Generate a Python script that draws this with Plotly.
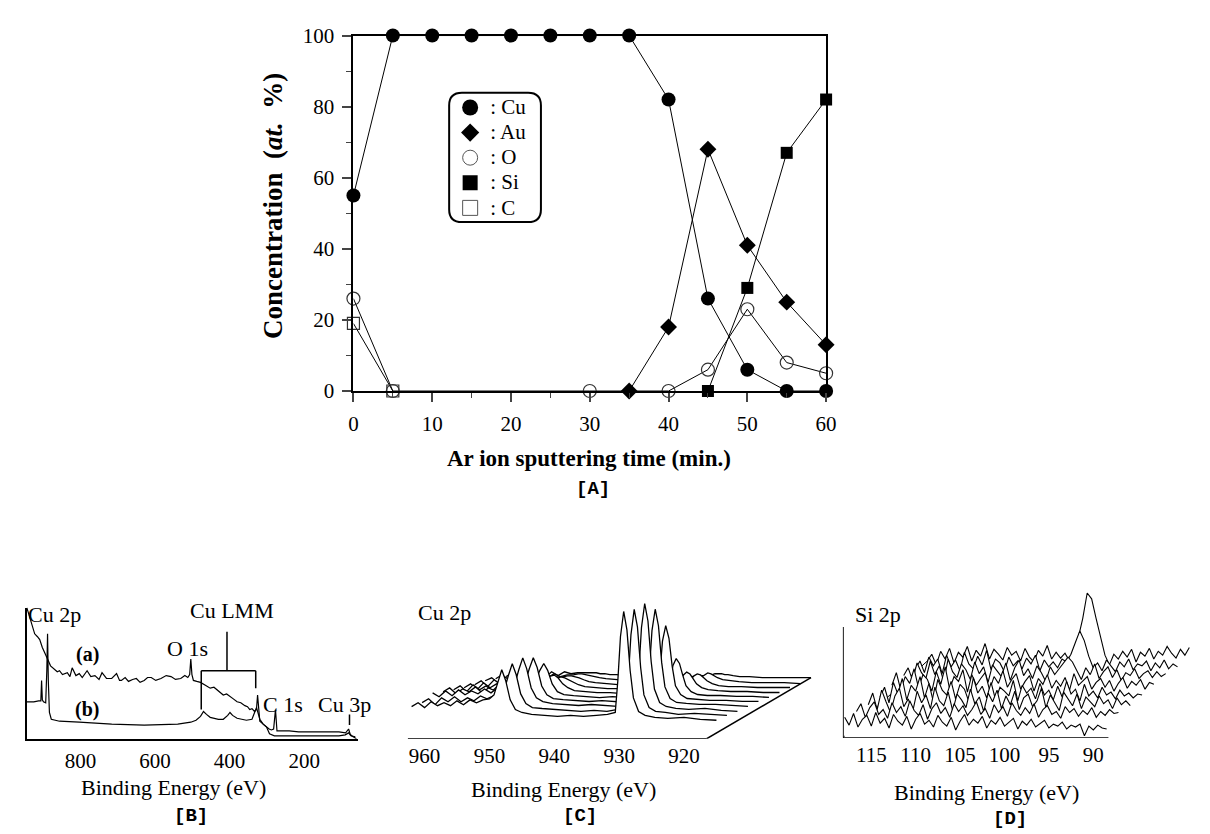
import plotly.graph_objects as go

W, H = 1210, 834
SERIF = "Liberation Serif"
MONO = "Liberation Mono"


def fx(p):
    return p / W


def fy(p):
    return 1 - p / H


# ---------------- Panel A : depth profile ----------------
TIME_CU = [0, 5, 10, 15, 20, 25, 30, 35, 40, 45, 50, 55, 60]
CU = [55, 100, 100, 100, 100, 100, 100, 100, 82, 26, 6, 0, 0]
TIME_AU = [35, 40, 45, 50, 55, 60]
AU = [0, 18, 68, 41, 25, 13]
TIME_O = [0, 5, 30, 40, 45, 50, 55, 60]
O = [26, 0, 0, 0, 6, 23, 8, 5]
TIME_SI = [45, 50, 55, 60]
SI = [0, 29, 67, 82]
TIME_C = [0, 5]
C = [19, 0]
X_TICKS_A = [0, 10, 20, 30, 40, 50, 60]
Y_TICKS_A = [0, 20, 40, 60, 80, 100]

# ---------------- Panel B : survey spectra ----------------
SPEC_A = [(943.6, 135), (933, 120), (922.5, 108), (915, 105), (909, 102), (902, 94), (896, 88), (888, 82),
          (880, 75), (870, 72), (862, 69), (856, 70), (848, 66), (835, 68), (828, 64), (822, 73),
          (812, 65), (803, 67), (795, 63), (782, 70), (772, 64), (761, 65), (750, 61), (742, 68),
          (730, 62), (716, 62), (708, 65), (703, 67), (695, 60), (690, 60), (680, 63), (671, 59),
          (660, 61), (650, 62), (640, 58), (629, 60), (620, 63), (610, 63), (598, 60), (584, 62),
          (570, 65), (557, 64), (545, 61), (531, 62), (520, 65), (512, 63), (507, 66), (504, 82),
          (501, 66), (497, 60), (488, 59), (478, 58), (465, 55), (452, 52), (442, 53), (433, 50),
          (425, 48), (417, 45), (408, 46), (399, 43), (390, 41), (380, 38), (370, 37), (359, 34),
          (352, 33), (346, 30), (340, 31), (333, 28), (328, 30), (325, 45), (322, 25), (319, 18),
          (310, 15), (301, 12), (294, 10), (288, 9), (282, 10), (277, 30), (273, 8), (265, 8),
          (240, 8), (215, 7), (187, 7), (160, 7), (134, 7), (107, 7), (89, 6), (81, 10), (77, 5),
          (73, 3), (60, 0)]
SPEC_B = [(943.6, 38), (925, 38), (912, 39), (906, 39), (904, 60), (902, 40), (899, 38), (893, 37),
          (890, 70), (888, 108), (886, 60), (883, 27), (878, 20), (866, 19), (856, 18), (803, 17),
          (716, 15), (629, 14), (539, 15), (504, 17), (490, 19), (478, 23), (470, 28), (462, 25),
          (452, 22), (430, 20), (417, 20), (405, 24), (399, 27), (392, 24), (380, 21), (355, 19),
          (340, 20), (332, 28), (328, 32), (324, 27), (319, 20), (310, 15), (301, 12), (293, 5),
          (280, 3), (240, 3), (107, 3), (90, 4), (81, 6), (75, 3), (63, 2)]
B_TICKS = [800, 600, 400, 200]
CU_LMM_RANGE = (476, 330)   # eV span of the bracket
CU_LMM_CENTER = 407
CU_3P = 78.6

# ---------------- Panel C : Cu 2p waterfall ----------------
E_C = [962.0, 961.0, 960.0, 959.0, 958.0, 957.0, 956.0, 955.0, 954.0, 953.0, 952.0, 951.0, 950.0,
       949.3, 948.7, 948.1, 947.5, 946.8, 946.0, 945.0, 943.5, 941.5, 939.5, 937.5, 935.5, 933.5,
       931.8, 930.6, 930.2, 929.8, 929.3, 928.8, 928.3, 927.8, 927.0, 926.0, 924.5, 922.5, 920.0,
       917.5, 915.0]
CU2P = [
    [33, 37, 32, 38, 34, 37, 34, 39, 35, 40, 37, 40, 41, 45, 58, 71, 60, 40, 30, 27, 25, 24, 23, 24, 23, 24, 25, 27, 60, 105, 131, 112, 70, 42, 28, 24, 22, 21, 22, 20, 19],
    [32, 36, 30, 37, 33, 38, 33, 37, 34, 39, 36, 39, 40, 46, 60, 72, 61, 41, 31, 27, 26, 25, 24, 23, 24, 23, 25, 28, 58, 102, 128, 110, 68, 40, 27, 23, 22, 20, 21, 20, 19],
    [37, 33, 39, 34, 40, 35, 39, 36, 41, 37, 42, 39, 42, 47, 61, 73, 62, 42, 32, 28, 26, 25, 24, 25, 24, 23, 25, 28, 60, 104, 129, 111, 69, 41, 27, 23, 21, 20, 21, 19, 18],
    [33, 37, 31, 36, 33, 38, 32, 37, 34, 39, 35, 38, 39, 44, 57, 68, 58, 39, 30, 26, 25, 24, 23, 24, 23, 22, 24, 27, 55, 96, 118, 101, 63, 38, 26, 22, 21, 20, 20, 19, 18],
    [30, 34, 28, 35, 30, 34, 29, 35, 31, 36, 32, 35, 36, 41, 50, 57, 50, 36, 28, 25, 24, 23, 22, 23, 22, 22, 23, 26, 47, 80, 96, 83, 54, 34, 25, 21, 20, 19, 19, 18, 18],
    [27, 31, 25, 32, 27, 31, 26, 32, 28, 33, 29, 32, 33, 36, 39, 40, 37, 31, 27, 24, 23, 22, 22, 21, 22, 21, 22, 25, 36, 50, 57, 52, 40, 29, 23, 20, 19, 19, 18, 18, 17],
    [25, 29, 23, 30, 25, 29, 24, 30, 26, 31, 27, 30, 30, 32, 33, 32, 30, 27, 25, 23, 22, 21, 21, 20, 21, 20, 21, 23, 30, 35, 38, 36, 31, 26, 22, 20, 19, 18, 18, 17, 17],
    [24, 27, 22, 28, 24, 28, 23, 28, 25, 29, 25, 28, 28, 29, 29, 28, 27, 25, 23, 22, 21, 20, 20, 20, 19, 20, 20, 22, 26, 29, 31, 30, 27, 24, 21, 19, 18, 18, 17, 17, 17],
    [21, 25, 19, 26, 21, 25, 20, 26, 22, 26, 23, 25, 25, 26, 26, 25, 24, 23, 22, 21, 20, 19, 19, 19, 18, 19, 19, 20, 23, 25, 27, 26, 24, 22, 20, 19, 18, 17, 17, 17, 16],
    [18, 22, 16, 23, 18, 22, 17, 23, 19, 23, 21, 22, 22, 22, 22, 22, 21, 21, 20, 20, 19, 19, 19, 18, 18, 18, 19, 19, 20, 21, 21, 21, 20, 20, 19, 18, 18, 17, 17, 17, 17],
]
C_TICKS = [960, 950, 940, 930, 920]

# ---------------- Panel D : Si 2p waterfall ----------------
E_D = [118.0, 117.5, 117.0, 116.5, 116.0, 115.5, 115.0, 114.5, 114.0, 113.5,
       113.0, 112.5, 112.0, 111.5, 111.0, 110.5, 110.0, 109.5, 109.0, 108.5,
       108.0, 107.5, 107.0, 106.5, 106.0, 105.5, 105.0, 104.5, 104.0, 103.5,
       103.0, 102.5, 102.0, 101.5, 101.0, 100.5, 100.0, 99.5, 99.0, 98.5,
       98.0, 97.5, 97.0, 96.5, 96.0, 95.5, 95.0, 94.5, 94.0, 93.5,
       93.0, 92.5, 92.0, 91.5, 91.0, 90.5, 90.0, 89.5, 89.0, 88.5]
SI2P = [
    [21, 13, 25, 11, 19, 23, 12, 26, 15, 20, 10, 24, 17, 13, 22, 9, 19, 25, 14, 18, 11, 23, 16, 12, 21, 8, 17, 24, 13, 19,
     15, 22, 10, 18, 14, 21, 12, 16, 20, 9, 17, 13, 19, 11, 15, 18, 10, 14, 12, 16, 9, 13, 11, 14, 2, 12, 8, 13, 10, 9],
    [18, 26, 12, 22, 28, 15, 20, 11, 27, 17, 23, 13, 29, 19, 14, 25, 10, 21, 27, 16, 22, 12, 26, 18, 24, 14, 20, 28, 15, 21,
     11, 25, 17, 23, 13, 27, 19, 14, 22, 16, 26, 12, 20, 24, 15, 18, 11, 23, 17, 21, 13, 19, 15, 22, 12, 18, 14, 20, 16, 17],
    [16, 28, 11, 31, 19, 8, 25, 33, 14, 22, 9, 30, 18, 26, 12, 34, 20, 15, 29, 10, 27, 21, 13, 32, 17, 24, 9, 28, 19, 31,
     12, 25, 16, 30, 11, 23, 27, 14, 20, 33, 13, 26, 18, 10, 29, 22, 15, 27, 12, 24, 19, 14, 25, 17, 21, 12, 23, 16, 20, 15],
    [15, 25, 9, 30, 18, 34, 12, 27, 21, 36, 14, 29, 10, 33, 22, 17, 31, 13, 28, 23, 10, 35, 19, 26, 14, 30, 12, 25, 21, 16,
     32, 11, 27, 19, 24, 13, 29, 17, 22, 12, 26, 15, 31, 18, 23, 11, 28, 16, 21, 14, 25, 17, 20, 13, 22, 16, 19, 14, 18, 17],
    [18, 31, 13, 27, 20, 35, 15, 29, 24, 12, 32, 19, 37, 14, 27, 22, 34, 11, 29, 18, 25, 31, 13, 27, 20, 33, 16, 24, 30, 14,
     22, 28, 12, 25, 19, 29, 15, 23, 17, 26, 13, 30, 18, 22, 27, 14, 21, 25, 16, 23, 12, 20, 26, 15, 22, 18, 24, 14, 21, 19],
    [19, 27, 14, 32, 22, 16, 34, 20, 29, 13, 36, 23, 17, 31, 25, 15, 33, 21, 28, 12, 30, 24, 18, 32, 14, 27, 35, 19, 26, 16,
     29, 22, 13, 28, 20, 26, 32, 38, 33, 24, 15, 27, 20, 31, 16, 23, 28, 17, 25, 14, 22, 19, 26, 16, 21, 24, 17, 23, 18, 21],
    [17, 25, 13, 29, 20, 27, 12, 31, 19, 26, 15, 34, 22, 17, 30, 21, 36, 16, 27, 23, 14, 29, 20, 25, 17, 28, 22, 31, 15, 26,
     19, 24, 18, 27, 24, 32, 44, 56, 46, 30, 18, 23, 15, 26, 20, 14, 24, 19, 27, 16, 22, 20, 25, 15, 23, 18, 26, 17, 22, 19],
    [16, 23, 12, 26, 18, 29, 14, 25, 20, 31, 16, 27, 21, 34, 18, 28, 23, 17, 30, 22, 26, 16, 29, 20, 15, 27, 21, 32, 18, 25,
     19, 24, 16, 26, 40, 60, 86, 80, 60, 40, 22, 12, 23, 18, 26, 20, 28, 15, 25, 21, 29, 18, 26, 22, 31, 24, 19, 28, 22, 30],
]
D_TICKS = [115, 110, 105, 100, 95, 90]

# ---------------- geometry / style constants ----------------
DX_C, DY_C = -1.62, 5.1      # waterfall step for panel C (eV, a.u.)
DX_D, DY_D = -1.33, 9.0      # waterfall step for panel D
C_RANGE = [962.6, 898.7]
C_AXIS_END = 916.5
D_RANGE = [118.2, 77.2]
D_AXIS_END = 88.3

fig = go.Figure()
LINE = dict(color="black", width=1)

# Panel A traces
A_SERIES = [
    (": Cu", TIME_CU, CU, dict(symbol="circle", size=14, color="black")),
    (": Au", TIME_AU, AU, dict(symbol="diamond", size=13, color="black")),
    (": O", TIME_O, O, dict(symbol="circle-open", size=13, color="#333", line=dict(width=1.2))),
    (": Si", TIME_SI, SI, dict(symbol="square", size=12, color="black")),
    (": C", TIME_C, C, dict(symbol="square-open", size=12, color="#333", line=dict(width=1.2))),
]
for name, xs, ys, mk in A_SERIES:
    fig.add_trace(go.Scatter(x=xs, y=ys, mode="lines+markers", line=LINE, marker=mk,
                             showlegend=False, cliponaxis=False, xaxis="x", yaxis="y"))
LEG_MK = {": Cu": dict(symbol="circle", size=16, color="black"),
          ": Au": dict(symbol="diamond", size=14, color="black"),
          ": O": dict(symbol="circle-open", size=15, color="#555", line=dict(width=1)),
          ": Si": dict(symbol="square", size=15, color="black"),
          ": C": dict(symbol="square-open", size=15, color="#555", line=dict(width=1))}
for name, _, _, _ in A_SERIES:
    fig.add_trace(go.Scatter(x=[None], y=[None], mode="markers", marker=LEG_MK[name],
                             name=f"<span style='font-size:21px'>{name}</span>",
                             showlegend=True, xaxis="x", yaxis="y"))

# Panel B traces
for spec in (SPEC_A, SPEC_B):
    fig.add_trace(go.Scatter(x=[p[0] for p in spec], y=[p[1] for p in spec], mode="lines",
                             line=dict(color="black", width=1.2), showlegend=False,
                             xaxis="x2", yaxis="y2"))

# Panel C waterfall (back to front, white fill hides the curves behind)
for k in reversed(range(len(CU2P))):
    fig.add_trace(go.Scatter(x=[e + k * DX_C for e in E_C], y=[v + k * DY_C for v in CU2P[k]],
                             mode="lines", fill="tozeroy", fillcolor="white",
                             line=dict(color="black", width=1.3), showlegend=False,
                             xaxis="x3", yaxis="y3"))

# Panel D waterfall
for k in reversed(range(len(SI2P))):
    fig.add_trace(go.Scatter(x=[e + k * DX_D for e in E_D], y=[v + k * DY_D for v in SI2P[k]],
                             mode="lines", fill="tozeroy", fillcolor="white",
                             line=dict(color="black", width=1.1), showlegend=False,
                             xaxis="x4", yaxis="y4"))

tickfont = dict(family=SERIF, size=21, color="black")
hidden = dict(showgrid=False, zeroline=False, showline=False, showticklabels=False, ticks="")

layout = dict(
    width=W, height=H, margin=dict(l=0, r=0, t=0, b=0),
    paper_bgcolor="white", plot_bgcolor="white",
    font=dict(family=SERIF, color="black"),
    showlegend=True,
    legend=dict(x=fx(443), y=fy(72), xanchor="left", yanchor="top", bgcolor="rgba(0,0,0,0)",
                borderwidth=0, font=dict(family=SERIF, size=17, color="black"),
                tracegroupgap=0, itemwidth=30),
    xaxis=dict(domain=[fx(345), fx(824)], range=[0, 60], tickvals=X_TICKS_A, ticks="outside",
               ticklen=9, tickwidth=1.5, minor=dict(dtick=5, ticks="outside", ticklen=5, tickwidth=1.2),
               showline=True, mirror=True, linewidth=2, linecolor="black", showgrid=False,
               zeroline=False, tickfont=tickfont, ticklabelstandoff=4, anchor="y"),
    yaxis=dict(domain=[fy(382), fy(16)], range=[0, 100], tickvals=Y_TICKS_A, ticks="outside",
               ticklen=9, tickwidth=1.5, minor=dict(dtick=10, ticks="outside", ticklen=5, tickwidth=1.2),
               showline=True, mirror=True, linewidth=2, linecolor="black", showgrid=False,
               zeroline=False, tickfont=tickfont, ticklabelstandoff=4, anchor="x"),
    xaxis2=dict(domain=[fx(14), fx(350)], range=[943.6, 54.8], tickvals=B_TICKS, ticks="",
                showline=True, linewidth=1.5, linecolor="black", showgrid=False, zeroline=False,
                tickfont=tickfont, ticklabelstandoff=2, anchor="y2"),
    yaxis2=dict(domain=[fy(740), fy(605)], range=[0, 135], showline=True, linewidth=1.5,
                linecolor="black", showgrid=False, zeroline=False, showticklabels=False, ticks="",
                anchor="x2"),
    xaxis3=dict(domain=[fx(400), fx(820)], range=C_RANGE, tickvals=C_TICKS, ticks="",
                showline=False, showgrid=False, zeroline=False, tickfont=tickfont,
                ticklabelstandoff=2, anchor="y3"),
    yaxis3=dict(domain=[fy(740), fy(595)], range=[0, 145], anchor="x3", **hidden),
    xaxis4=dict(domain=[fx(841), fx(1210)], range=D_RANGE, tickvals=D_TICKS, ticks="",
                showline=False, showgrid=False, zeroline=False, tickfont=tickfont,
                ticklabelstandoff=2, anchor="y4"),
    yaxis4=dict(domain=[fy(739), fy(579)], range=[0, 160], anchor="x4", **hidden),
)
fig.update_layout(**layout)


# rounded legend frame (paper coordinates from pixel box)
def rounded_box(x0, y0, x1, y1, r):
    def P(x, y):
        return f"{fx(x):.5f},{fy(y):.5f}"
    return (f"M {P(x0 + r, y0)} L {P(x1 - r, y0)} Q {P(x1, y0)} {P(x1, y0 + r)} "
            f"L {P(x1, y1 - r)} Q {P(x1, y1)} {P(x1 - r, y1)} L {P(x0 + r, y1)} "
            f"Q {P(x0, y1)} {P(x0, y1 - r)} L {P(x0, y0 + r)} Q {P(x0, y0)} {P(x0 + r, y0)} Z")


shapes = [
    dict(type="path", xref="paper", yref="paper", path=rounded_box(442, 75, 535, 208, 13),
         line=dict(color="black", width=2)),
    # Panel B peak markers
    dict(type="line", xref="x2", yref="y2", x0=CU_LMM_CENTER, x1=CU_LMM_CENTER, y0=70, y1=110,
         line=dict(color="black", width=1.5)),
    dict(type="line", xref="x2", yref="y2", x0=CU_LMM_RANGE[0], x1=CU_LMM_RANGE[1], y0=70, y1=70,
         line=dict(color="black", width=1.5)),
    dict(type="line", xref="x2", yref="y2", x0=CU_LMM_RANGE[0], x1=CU_LMM_RANGE[0], y0=70, y1=30,
         line=dict(color="black", width=1.5)),
    dict(type="line", xref="x2", yref="y2", x0=CU_LMM_RANGE[1], x1=CU_LMM_RANGE[1], y0=70, y1=52,
         line=dict(color="black", width=1.5)),
    dict(type="line", xref="x2", yref="y2", x0=CU_3P, x1=CU_3P, y0=14, y1=25,
         line=dict(color="black", width=1.5)),
    # Panel C axes
    dict(type="line", xref="x3", yref="y3", x0=C_RANGE[0], x1=C_AXIS_END, y0=0, y1=0,
         line=dict(color="black", width=1.5), layer="above"),
    dict(type="line", xref="x3", yref="y3", x0=C_AXIS_END,
         x1=E_C[-1] + (len(CU2P) - 1) * DX_C, y0=0,
         y1=CU2P[-1][-1] + (len(CU2P) - 1) * DY_C, line=dict(color="black", width=1.5), layer="above"),
    # Panel D axes
    dict(type="line", xref="x4", yref="y4", x0=D_RANGE[0], x1=D_AXIS_END, y0=0, y1=0,
         line=dict(color="black", width=1.5), layer="above"),
    dict(type="line", xref="x4", yref="y4", x0=D_RANGE[0], x1=D_RANGE[0], y0=0, y1=114,
         line=dict(color="black", width=1.8), layer="above"),
    dict(type="line", xref="x4", yref="y4", x0=D_RANGE[0],
         x1=E_D[0] + (len(SI2P) - 1) * DX_D, y0=0, y1=SI2P[-1][0] + (len(SI2P) - 1) * DY_D,
         line=dict(color="black", width=1), layer="below"),
]
fig.update_layout(shapes=shapes)


def ann(text, x, y, size=22, family=SERIF, angle=0, xanchor="center"):
    return dict(text=text, x=fx(x), y=fy(y), xref="paper", yref="paper", showarrow=False,
                xanchor=xanchor, yanchor="middle", textangle=angle,
                font=dict(family=family, size=size, color="black"))


annotations = [
    ann("<b>Concentration  (</b><b><i>at.</i></b><b>  %)</b>", 264, 192, size=27, angle=-90),
    ann("<b>Ar ion sputtering time (min.)</b>", 584, 452, size=23),
    ann("<b>[A]</b>", 588, 483, size=19, family=MONO),
    # B
    ann("Cu 2p", 13, 612, xanchor="left"),
    ann("Cu LMM", 222, 608),
    ann("O 1s", 177, 647),
    ann("C 1s", 274, 705),
    ann("Cu 3p", 336, 705),
    ann("<b>(a)</b>", 75, 653, size=20),
    ann("<b>(b)</b>", 75, 710, size=20),
    ann("Binding Energy (eV)", 163, 790, size=22),
    ann("<b>[B]</b>", 180, 820, size=19, family=MONO),
    # C
    ann("Cu 2p", 437, 610, size=22),
    ann("Binding Energy (eV)", 558, 792, size=22),
    ann("<b>[C]</b>", 575, 820, size=19, family=MONO),
    # D
    ann("Si 2p", 877, 612, size=22),
    ann("Binding Energy (eV)", 987, 795, size=22),
    ann("<b>[D]</b>", 1010, 823, size=19, family=MONO),
]
fig.update_layout(annotations=annotations)

fig.write_html("out.html")
